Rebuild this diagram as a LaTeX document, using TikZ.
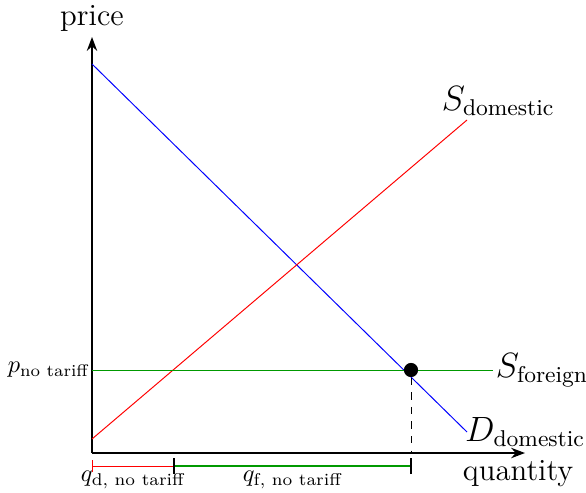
\documentclass[tikz,border=0pt]{standalone}
\usepackage{amsmath}
\usetikzlibrary{arrows.meta, positioning, calc}

\begin{document}
\begin{tikzpicture}[
    x=0.41pt, y=0.41pt,
    >=Stealth,
    axis/.style={->, semithick},
    curve/.style={line width=0.4pt},
    ax/.style={font=\fontsize{12.6}{15}\selectfont, inner sep=1pt},
    lbl/.style={font=\fontsize{13.4}{16}\selectfont, inner sep=1pt},
    brk/.style={font=\normalsize, inner sep=1pt}
  ]
  \useasboundingbox (-92,-39) rectangle (494,453);

  % Axes
  \coordinate (O) at (0,0);
  \coordinate (xend) at (433,0);
  \coordinate (yend) at (0,416);
  \draw[axis] (O) -- (xend);
  \draw[axis] (O) -- (yend);
  \node[ax, above=1pt of yend] (price) {price};
  \node[ax, anchor=north west] (qty) at (368,-4) {quantity};

  % Curves
  \coordinate (d0) at (0,389);
  \coordinate (d1) at (375,21);
  \coordinate (s0) at (0,14);
  \coordinate (s1) at (375,333);
  \coordinate (f0) at (0,83);
  \coordinate (f1) at (401,83);
  \draw[curve, blue] (d0) -- (d1);
  \draw[curve, red] (s0) -- (s1);
  \draw[curve, green!60!black] (f0) -- (f1);

  % Labels on curves
  \node[lbl, anchor=south west] (Sdom) at (347,334) {$S_{\text{domestic}}$};
  \node[lbl, anchor=west] (Sfor) at (f1) {$S_{\text{foreign}}$};
  \node[lbl, anchor=west] (Ddom) at ([xshift=-2pt]d1) {$D_{\text{domestic}}$};
  \node[anchor=east, inner sep=1pt, font=\fontsize{9.8}{12}\selectfont] (pnt) at (f0) {$p_{\text{no tariff}}$};

  % Equilibrium point
  \node[circle, fill=black, inner sep=0pt, minimum size=5.8pt] (eq) at (319,83) {};
  \coordinate (eqx) at (319,0);
  \draw[dashed] (eq) -- (eqx);

  % Quantities below the axis
  \coordinate (b0) at (0,-13);
  \coordinate (b1) at (82,-13);
  \coordinate (b2) at (319,-13);
  \coordinate (bd) at ($(b0)!0.5!(b1)$);
  \coordinate (bf) at ($(b1)!0.5!(b2)$);
  \draw[red] (b0) -- (b1);
  \draw[thick, green!60!black] (b1) -- (b2);
  \draw[red] ([yshift=-2.5pt]b0) -- ([yshift=2.5pt]b0);
  \draw[semithick] ([yshift=-3.3pt]b1) -- ([yshift=3.3pt]b1);
  \draw[semithick] ([yshift=-3.3pt]b2) -- ([yshift=3.3pt]b2);
  \node[brk, below=1pt of bd] (qd) {$q_{\text{d, no tariff}}$};
  \node[brk, below=1pt of bf] (qf) {$q_{\text{f, no tariff}}$};
\end{tikzpicture}
\end{document}
